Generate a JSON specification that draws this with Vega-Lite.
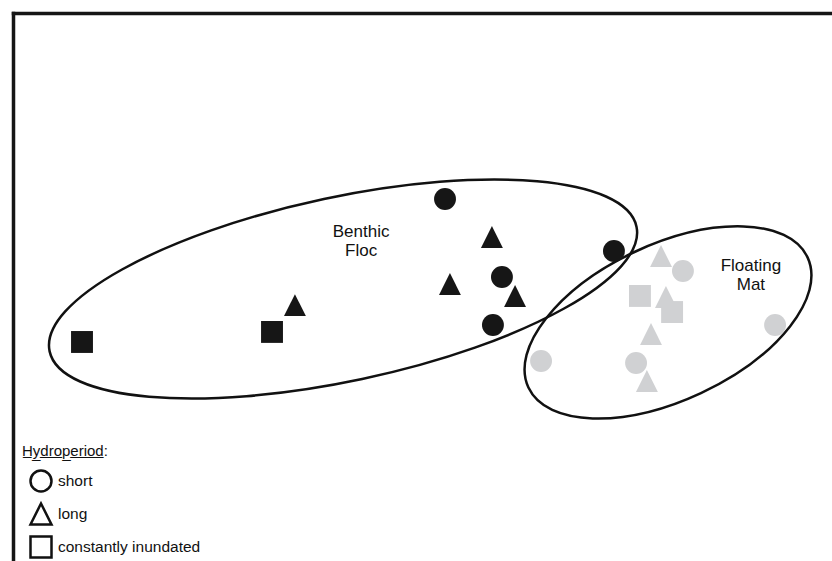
{
  "$schema": "https://vega.github.io/schema/vega-lite/v6.json",
  "width": 819,
  "height": 548,
  "autosize": {"type": "none"},
  "padding": {"left": 13, "top": 13, "right": 0, "bottom": 0},
  "background": "white",
  "config": {
    "font": "Liberation Sans",
    "view": {"stroke": null},
    "axis": {
      "domain": true,
      "domainColor": "#161616",
      "domainWidth": 3.5,
      "domainCap": "square",
      "ticks": false,
      "labels": false,
      "grid": false
    }
  },
  "datasets": {
    "samples": [
      {"mat": "Benthic Floc", "hydroperiod": "constantly inundated", "nmds1": -1.663, "nmds2": -0.301},
      {"mat": "Benthic Floc", "hydroperiod": "constantly inundated", "nmds1": -0.735, "nmds2": -0.246},
      {"mat": "Benthic Floc", "hydroperiod": "long", "nmds1": -0.623, "nmds2": -0.099},
      {"mat": "Benthic Floc", "hydroperiod": "short", "nmds1": 0.11, "nmds2": 0.482},
      {"mat": "Benthic Floc", "hydroperiod": "long", "nmds1": 0.339, "nmds2": 0.274},
      {"mat": "Benthic Floc", "hydroperiod": "long", "nmds1": 0.134, "nmds2": 0.016},
      {"mat": "Benthic Floc", "hydroperiod": "short", "nmds1": 0.388, "nmds2": 0.055},
      {"mat": "Benthic Floc", "hydroperiod": "long", "nmds1": 0.452, "nmds2": -0.049},
      {"mat": "Benthic Floc", "hydroperiod": "short", "nmds1": 0.344, "nmds2": -0.208},
      {"mat": "Benthic Floc", "hydroperiod": "short", "nmds1": 0.935, "nmds2": 0.197},
      {"mat": "Floating Mat", "hydroperiod": "long", "nmds1": 1.165, "nmds2": 0.17},
      {"mat": "Floating Mat", "hydroperiod": "short", "nmds1": 1.272, "nmds2": 0.088},
      {"mat": "Floating Mat", "hydroperiod": "constantly inundated", "nmds1": 1.062, "nmds2": -0.049},
      {"mat": "Floating Mat", "hydroperiod": "long", "nmds1": 1.189, "nmds2": -0.055},
      {"mat": "Floating Mat", "hydroperiod": "constantly inundated", "nmds1": 1.219, "nmds2": -0.137},
      {"mat": "Floating Mat", "hydroperiod": "long", "nmds1": 1.116, "nmds2": -0.257},
      {"mat": "Floating Mat", "hydroperiod": "short", "nmds1": 1.043, "nmds2": -0.416},
      {"mat": "Floating Mat", "hydroperiod": "long", "nmds1": 1.096, "nmds2": -0.515},
      {"mat": "Floating Mat", "hydroperiod": "short", "nmds1": 1.722, "nmds2": -0.208},
      {"mat": "Floating Mat", "hydroperiod": "short", "nmds1": 0.579, "nmds2": -0.405}
    ],
    "groups": [
      {"group": "Benthic Floc", "nmds1": -0.388, "nmds2": -0.011},
      {"group": "Floating Mat", "nmds1": 1.199, "nmds2": -0.194}
    ],
    "groupLabels": [
      {"text": "Benthic\nFloc", "nmds1": -0.3, "nmds2": 0.274},
      {"text": "Floating\nMat", "nmds1": 1.604, "nmds2": 0.088}
    ]
  },
  "encoding": {
    "x": {
      "field": "nmds1",
      "type": "quantitative",
      "scale": {"domain": [-2, 2], "nice": false, "zero": false},
      "axis": {"orient": "top", "title": null}
    },
    "y": {
      "field": "nmds2",
      "type": "quantitative",
      "scale": {"domain": [-1.5, 1.5], "nice": false, "zero": false},
      "axis": {"orient": "left", "title": null}
    }
  },
  "layer": [
    {
      "data": {"name": "groups"},
      "transform": [{"filter": "datum.group === 'Benthic Floc'"}],
      "mark": {
        "type": "point",
        "shape": "M300,0C300,50.8 165.7,92 0,92C-165.7,92 -300,50.8 -300,0C-300,-50.8 -165.7,-92 0,-92C165.7,-92 300,-50.8 300,0Z",
        "size": 4,
        "angle": -12,
        "filled": false,
        "color": "#111111",
        "strokeWidth": 2.5,
        "opacity": 1
      }
    },
    {
      "data": {"name": "groups"},
      "transform": [{"filter": "datum.group === 'Floating Mat'"}],
      "mark": {
        "type": "point",
        "shape": "M154,0C154,43.08 85.05,78 0,78C-85.05,78 -154,43.08 -154,0C-154,-43.08 -85.05,-78 0,-78C85.05,-78 154,-43.08 154,0Z",
        "size": 4,
        "angle": -25,
        "filled": false,
        "color": "#111111",
        "strokeWidth": 2.5,
        "opacity": 1
      }
    },
    {
      "data": {"name": "samples"},
      "mark": {"type": "point", "filled": true, "opacity": 1, "size": 480, "strokeWidth": 0},
      "encoding": {
        "color": {
          "field": "mat",
          "type": "nominal",
          "scale": {"domain": ["Benthic Floc", "Floating Mat"], "range": ["#161616", "#d0d1d3"]},
          "legend": null
        },
        "shape": {
          "field": "hydroperiod",
          "type": "nominal",
          "scale": {
            "domain": ["short", "long", "constantly inundated"],
            "range": ["circle", "M0,-1L1,1L-1,1Z", "square"]
          },
          "legend": {
            "orient": "none",
            "legendX": 9,
            "legendY": 431,
            "padding": 0,
            "title": "H̲y̲d̲r̲o̲p̲e̲r̲i̲o̲d̲:",
            "titleFont": "Liberation Sans",
            "titleFontSize": 15,
            "titleFontWeight": "normal",
            "titleColor": "#111111",
            "titlePadding": 10,
            "labelFont": "Liberation Sans",
            "labelFontSize": 15.5,
            "labelColor": "#111111",
            "labelOffset": 5,
            "symbolSize": 441,
            "symbolOffset": 7,
            "symbolStrokeWidth": 2.5,
            "symbolStrokeColor": "#111111",
            "symbolFillColor": "transparent",
            "rowPadding": 1,
            "encode": {
              "symbols": {
                "update": {
                  "fill": {"value": "transparent"},
                  "stroke": {"value": "#111111"},
                  "strokeWidth": {"value": 2.5},
                  "opacity": {"value": 1}
                }
              }
            }
          }
        }
      }
    },
    {
      "data": {"name": "groupLabels"},
      "mark": {
        "type": "text",
        "font": "Liberation Sans",
        "fontSize": 17,
        "lineBreak": "\n",
        "lineHeight": 19,
        "align": "center",
        "baseline": "alphabetic",
        "color": "#111111"
      },
      "encoding": {"text": {"field": "text"}}
    }
  ]
}
